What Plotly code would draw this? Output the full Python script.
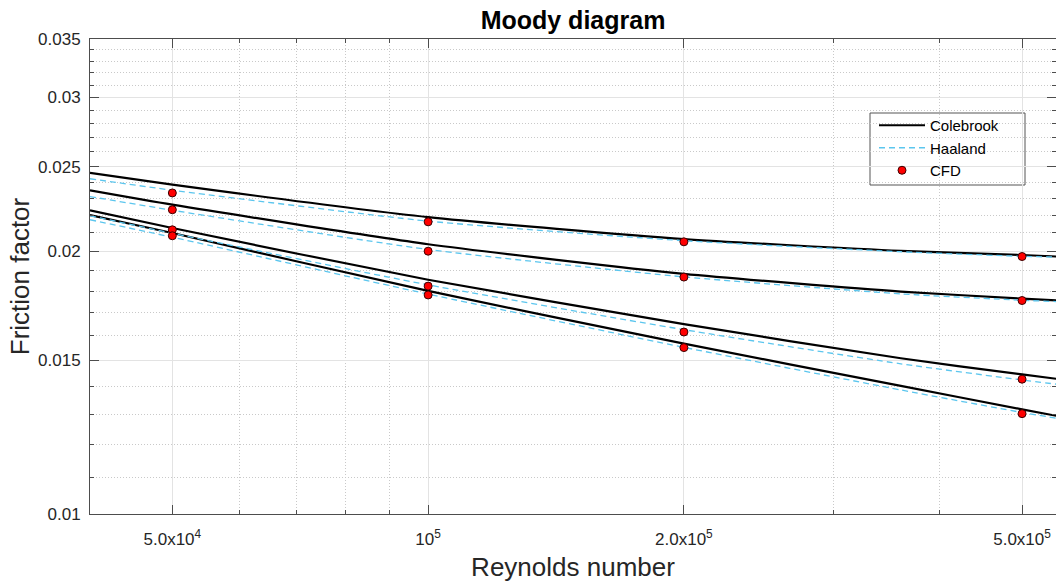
import plotly.graph_objects as go

# Reynolds numbers where the curves were read
re_curve = [4.0e4, 5.0e4, 1.0e5, 2.0e5, 3.6e5, 5.0e5, 5.5e5]

# Colebrook friction factors (four roughness values)
colebrook_a = [0.02459, 0.02384, 0.02188, 0.02065, 0.02002, 0.01980, 0.01972]
colebrook_b = [0.02348, 0.02261, 0.02037, 0.01884, 0.01798, 0.01765, 0.01756]
colebrook_c = [0.02227, 0.02126, 0.01855, 0.01650, 0.01508, 0.01445, 0.01428]
colebrook_d = [0.02200, 0.02098, 0.01801, 0.01567, 0.01402, 0.01318, 0.01295]

# Haaland friction factors
haaland_a = [0.02421, 0.02349, 0.02165, 0.02056, 0.01997, 0.01973, 0.01969]
haaland_b = [0.02310, 0.02228, 0.02009, 0.01869, 0.01787, 0.01757, 0.01751]
haaland_c = [0.02196, 0.02097, 0.01830, 0.01626, 0.01486, 0.01424, 0.01408]
haaland_d = [0.02173, 0.02075, 0.01786, 0.01552, 0.01387, 0.01307, 0.01287]

# CFD results
re_cfd = [5.0e4, 1.0e5, 2.0e5, 5.0e5]
cfd_a = [0.02332, 0.02161, 0.02050, 0.01972]
cfd_b = [0.02231, 0.02000, 0.01868, 0.01756]
cfd_c = [0.02116, 0.01824, 0.01616, 0.01427]
cfd_d = [0.02083, 0.01782, 0.01551, 0.01303]

# Axis ticks
x_tickvals = [5e4, 1e5, 2e5, 5e5]
x_ticktext = ["5.0x10<sup>4</sup>", "10<sup>5</sup>", "2.0x10<sup>5</sup>", "5.0x10<sup>5</sup>"]
x_minor = [6e4, 7e4, 8e4, 9e4, 3e5, 4e5]
y_tickvals = [0.01, 0.015, 0.02, 0.025, 0.03, 0.035]
y_ticktext = ["0.01", "0.015", "0.02", "0.025", "0.03", "0.035"]
y_minor = [0.011, 0.012, 0.013, 0.014, 0.016, 0.017, 0.018, 0.019,
           0.021, 0.022, 0.023, 0.024, 0.026, 0.027, 0.028, 0.029,
           0.031, 0.032, 0.033, 0.034]


def joined(series_list, xs):
    X, Y = [], []
    for s in series_list:
        X += list(xs) + [None]
        Y += list(s) + [None]
    return X, Y


fig = go.Figure()

cx, cy = joined([colebrook_a, colebrook_b, colebrook_c, colebrook_d], re_curve)
fig.add_trace(go.Scatter(x=cx, y=cy, mode="lines", name="Colebrook",
                         legendgroup="g1",
                         line=dict(color="black", width=2.2, shape="spline", smoothing=0.6)))

hx, hy = joined([haaland_a, haaland_b, haaland_c, haaland_d], re_curve)
fig.add_trace(go.Scatter(x=hx, y=hy, mode="lines", name="Haaland",
                         legendgroup="g2",
                         line=dict(color="#5cc6ee", width=1.3, dash="6px,4px",
                                   shape="spline", smoothing=0.6)))

px_, py_ = joined([cfd_a, cfd_b, cfd_c, cfd_d], re_cfd)
fig.add_trace(go.Scatter(x=px_, y=py_, mode="markers", name="CFD",
                         legendgroup="g3",
                         marker=dict(color="#ff0000", size=8,
                                     line=dict(color="#3a0000", width=1))))

axis_color = "#4d4d4d"
font_fam = "Liberation Sans, Arial, sans-serif"

# plot area in pixels: x 90..1056, y 39..514
def px_to_paper_x(p):
    return (p - 90) / 966.0


def px_to_paper_y(p):
    return (514 - p) / 475.0


fig.add_shape(type="rect", xref="paper", yref="paper",
              x0=px_to_paper_x(870), x1=px_to_paper_x(1025),
              y0=px_to_paper_y(185), y1=px_to_paper_y(113),
              fillcolor="white", line=dict(color="#555", width=1), layer="below")

fig.update_layout(
    width=1056, height=582,
    margin=dict(l=90, r=0, t=39, b=68),
    paper_bgcolor="white", plot_bgcolor="white",
    font=dict(family=font_fam, color="#262626"),
    title=dict(text="<b>Moody diagram</b>", x=(90 + 1056) / 2 / 1056, xanchor="center",
               y=1 - 20 / 582, yanchor="middle", yref="container",
               font=dict(size=25, color="black", family=font_fam)),
    showlegend=True,
    legend=dict(x=px_to_paper_x(874), y=px_to_paper_y(109), xanchor="left", yanchor="top",
                bgcolor="rgba(0,0,0,0)", borderwidth=0,
                font=dict(size=15, color="black", family=font_fam),
                tracegroupgap=0, itemwidth=46),
)

fig.update_xaxes(
    type="log", range=[4.60206, 5.73893],
    tickmode="array", tickvals=x_tickvals, ticktext=x_ticktext,
    tickfont=dict(size=17, color="#262626"),
    ticks="inside", ticklen=9, tickcolor=axis_color, tickwidth=1,
    showline=True, linecolor=axis_color, linewidth=1, mirror="ticks",
    showgrid=True, gridcolor="#e3e3e3", gridwidth=1,
    zeroline=False,
    minor=dict(tickmode="array", tickvals=x_minor, ticks="inside", ticklen=4,
               tickcolor=axis_color, showgrid=True, gridcolor="#c9c9c9",
               griddash="1px,2px", gridwidth=1),
    title=dict(text="Reynolds number", font=dict(size=26, color="#262626"), standoff=12),
    ticklabelstandoff=10,
)

fig.update_yaxes(
    type="log", range=[-2, -1.455932],
    tickmode="array", tickvals=y_tickvals, ticktext=y_ticktext,
    tickfont=dict(size=17, color="#262626"),
    ticks="inside", ticklen=9, tickcolor=axis_color, tickwidth=1,
    showline=True, linecolor=axis_color, linewidth=1, mirror="ticks",
    showgrid=True, gridcolor="#e3e3e3", gridwidth=1,
    zeroline=False,
    minor=dict(tickmode="array", tickvals=y_minor, ticks="inside", ticklen=4,
               tickcolor=axis_color, showgrid=True, gridcolor="#c9c9c9",
               griddash="1px,2px", gridwidth=1),
    title=dict(text="Friction factor", font=dict(size=26, color="#262626"), standoff=0),
    ticklabelstandoff=5,
)

fig.write_html("out.html")
